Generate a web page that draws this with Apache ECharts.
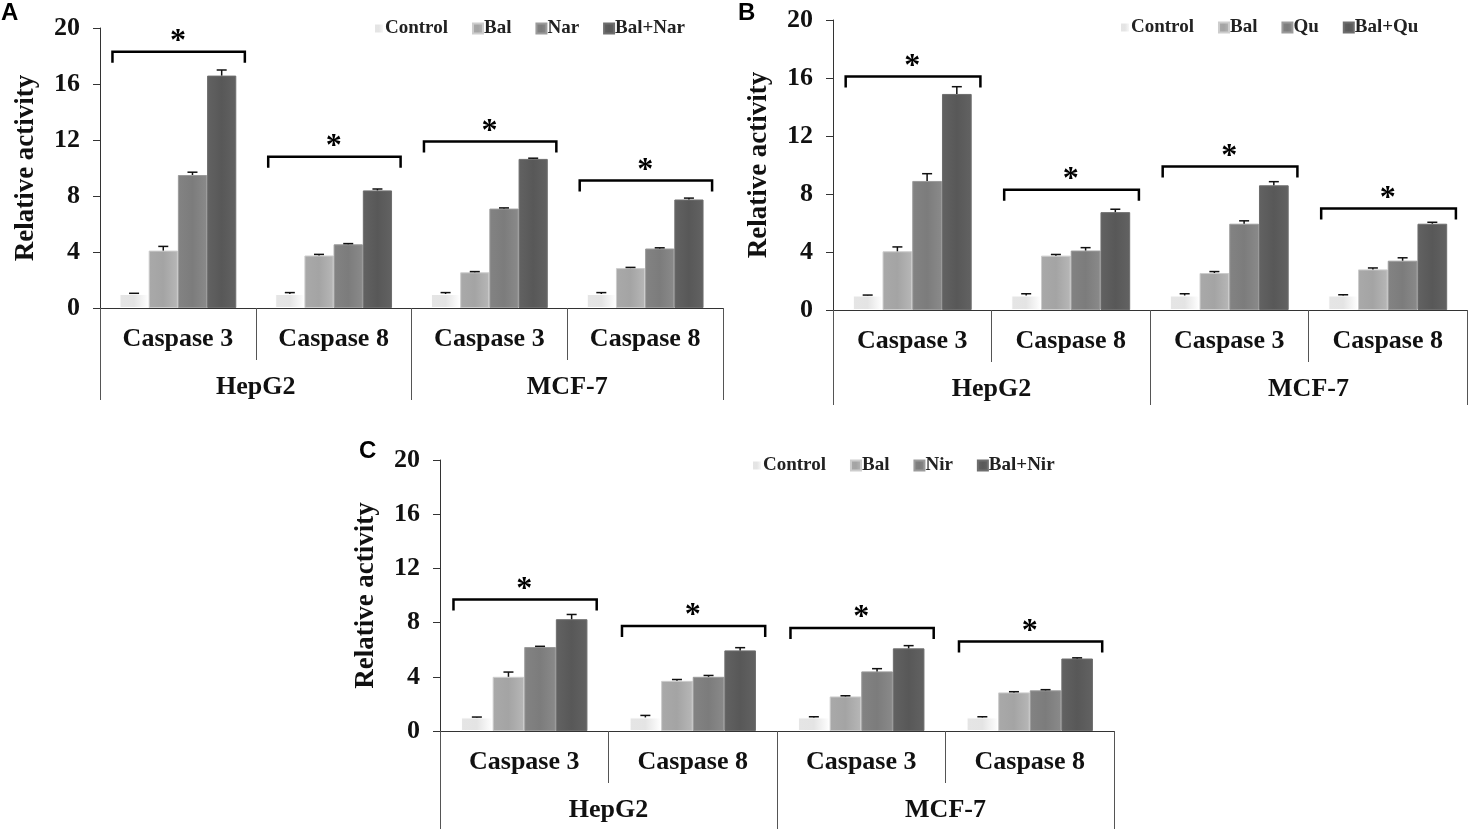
<!DOCTYPE html>
<html>
<head>
<meta charset="utf-8">
<script src="https://cdn.jsdelivr.net/npm/echarts@6/dist/echarts.min.js"></script>
<style>
    html, body {margin: 0; padding: 0; background: #fff;}
    #main {width: 1470px; height: 829px;}
</style>
</head>
<body>
<div id="main"></div>
<script>
/*分类*/
const caspases = ['Caspase 3', 'Caspase 8', 'Caspase 3', 'Caspase 8'];
const cellLines = ['HepG2', 'MCF-7'];
const yTicks = [0, 4, 8, 12, 16, 20];

/*A: Bal + Nar*/
const namesA = ['Control', 'Bal', 'Nar', 'Bal+Nar'];
const controlA = [1.0, 1.0, 1.0, 1.0];
const balA = [4.1, 3.75, 2.55, 2.85];
const narA = [9.5, 4.55, 7.1, 4.25];
const balNarA = [16.6, 8.4, 10.65, 7.75];
const controlErrA = [0.05, 0.1, 0.1, 0.1];
const balErrA = [0.3, 0.08, 0.05, 0.05];
const narErrA = [0.2, 0.05, 0.05, 0.05];
const balNarErrA = [0.4, 0.1, 0.05, 0.1];
const bracketA = [18.3, 10.8, 11.9, 9.1];

/*B: Bal + Qu*/
const namesB = ['Control', 'Bal', 'Qu', 'Bal+Qu'];
const controlB = [1.0, 1.0, 1.0, 1.0];
const balB = [4.05, 3.75, 2.55, 2.8];
const quB = [8.9, 4.1, 5.95, 3.4];
const balQuB = [14.9, 6.75, 8.6, 5.95];
const controlErrB = [0.03, 0.12, 0.12, 0.05];
const balErrB = [0.3, 0.08, 0.1, 0.1];
const quErrB = [0.5, 0.2, 0.2, 0.2];
const balQuErrB = [0.5, 0.2, 0.25, 0.1];
const bracketB = [16.1, 8.3, 9.9, 7.0];

/*C: Bal + Nir*/
const namesC = ['Control', 'Bal', 'Nir', 'Bal+Nir'];
const controlC = [1.0, 1.0, 1.0, 1.0];
const balC = [4.0, 3.7, 2.55, 2.85];
const nirC = [6.2, 4.0, 4.4, 3.0];
const balNirC = [8.25, 5.95, 6.1, 5.35];
const controlErrC = [0.03, 0.15, 0.05, 0.05];
const balErrC = [0.35, 0.1, 0.05, 0.05];
const nirErrC = [0.05, 0.1, 0.2, 0.05];
const balNirErrC = [0.35, 0.2, 0.2, 0.05];
const bracketC = [9.7, 7.75, 7.6, 6.6];

const barColors = ['#e4e4e4', '#a4a4a4', '#7c7c7c', '#585858'];
const serif = '"Liberation Serif", "Times New Roman", serif';
const catGap = 0.75; //四根柱子占分类宽度的比例

//柱子的渐变,模仿原图的立体效果
function barFill(c) {
    const col = echarts.color;
    return {
        type: 'linear', x: 0, y: 0, x2: 1, y2: 0,
        colorStops: [
            {offset: 0, color: col.lift(c, 0.06)},
            {offset: 0.5, color: c},
            {offset: 1, color: col.lift(c, -0.12)}
        ]
    };
}

function errorRender(params, api) {
    const cat = api.value(0), val = api.value(1), err = api.value(2), s = api.value(3);
    const base = api.coord([cat, val]);
    const top = api.coord([cat, val + err]);
    const w = api.size([1, 0])[0];
    const bw = w * catGap / 4;
    const x = base[0] - w * catGap / 2 + bw * (s + 0.5);
    const style = {stroke: '#111', lineWidth: 1.5};
    return {
        type: 'group',
        children: [
            {type: 'line', shape: {x1: x, y1: base[1], x2: x, y2: top[1]}, style: style},
            {type: 'line', shape: {x1: x - 5, y1: top[1], x2: x + 5, y2: top[1]}, style: style}
        ]
    };
}

function bracketRender(params, api) {
    const c = api.coord([api.value(0), api.value(1)]);
    const w = api.size([1, 0])[0];
    const l = c[0] - w * 0.42, r = c[0] + w * 0.43;
    return {
        type: 'group',
        children: [
            {
                type: 'polyline',
                shape: {points: [[l, c[1] + 11], [l, c[1]], [r, c[1]], [r, c[1] + 11]]},
                style: {stroke: '#000', lineWidth: 2.5, fill: null}
            },
            {
                type: 'text',
                style: {
                    text: '*', x: c[0], y: c[1] + 6, align: 'center', verticalAlign: 'bottom',
                    font: 'bold 32px ' + serif, fill: '#000'
                }
            }
        ]
    };
}

let grids = [], xAxes = [], yAxes = [], legends = [], series = [];

function addPanel(idx, rect, names, vals, errs, brackets, legendPos, tickLen2) {
    grids.push(rect);
    xAxes.push({
        type: 'category', gridIndex: idx, position: 'bottom', data: caspases,
        axisLine: {show: true, lineStyle: {color: '#333', width: 1}},
        axisTick: {show: true, interval: 0, length: 52, lineStyle: {color: '#555'}},
        axisLabel: {margin: 18, color: '#111', fontFamily: serif, fontWeight: 'bold', fontSize: 26}
    });
    xAxes.push({
        type: 'category', gridIndex: idx, position: 'bottom', data: cellLines,
        axisLine: {show: false},
        axisTick: {show: true, interval: 0, length: tickLen2, lineStyle: {color: '#555'}},
        axisLabel: {margin: 66, color: '#111', fontFamily: serif, fontWeight: 'bold', fontSize: 26}
    });
    yAxes.push({
        type: 'value', gridIndex: idx, min: yTicks[0], max: yTicks[yTicks.length - 1], interval: 4,
        name: 'Relative activity', nameLocation: 'middle', nameGap: 60,
        nameTextStyle: {fontFamily: serif, fontWeight: 'bold', fontSize: 27, color: '#111'},
        axisLine: {show: true, lineStyle: {color: '#333'}},
        axisTick: {show: true, length: 7, lineStyle: {color: '#333'}},
        splitLine: {show: false},
        axisLabel: {margin: 20, color: '#111', fontFamily: serif, fontWeight: 'bold', fontSize: 26}
    });
    legends.push(Object.assign({
        data: names, itemWidth: 10, itemHeight: 10, itemGap: 24, icon: 'rect',
        textStyle: {fontFamily: serif, fontWeight: 'bold', fontSize: 19, color: '#222', padding: [0, 0, 0, -4]}
    }, legendPos));
    names.forEach((name, s) => {
        series.push({
            type: 'bar', name: name, xAxisIndex: idx * 2, yAxisIndex: idx,
            data: vals[s], barGap: '0%', barCategoryGap: '25%',
            itemStyle: {color: barFill(barColors[s]), borderColor: echarts.color.lift(barColors[s], -0.25), borderWidth: 1},
            emphasis: {disabled: true}
        });
        series.push({
            type: 'custom', name: name + ' err', xAxisIndex: idx * 2, yAxisIndex: idx, z: 5,
            renderItem: errorRender,
            data: vals[s].map((v, i) => [i, v, errs[s][i], s]),
            silent: true
        });
    });
    series.push({
        type: 'custom', xAxisIndex: idx * 2, yAxisIndex: idx, z: 5,
        renderItem: bracketRender,
        data: brackets.map((v, i) => [i, v]),
        silent: true
    });
}

addPanel(0, {left: 100, top: 28, width: 623, height: 280},
    namesA, [controlA, balA, narA, balNarA], [controlErrA, balErrA, narErrA, balNarErrA], bracketA,
    {left: 368, top: 14}, 92);
addPanel(1, {left: 833, top: 20, width: 634, height: 290},
    namesB, [controlB, balB, quB, balQuB], [controlErrB, balErrB, quErrB, balQuErrB], bracketB,
    {left: 1114, top: 13}, 95);
addPanel(2, {left: 440, top: 460, width: 674, height: 271},
    namesC, [controlC, balC, nirC, balNirC], [controlErrC, balErrC, nirErrC, balNirErrC], bracketC,
    {left: 746, top: 451}, 100);

const letterStyle = {fontFamily: '"Liberation Sans", Arial, sans-serif', fontWeight: 'bold', fontSize: 24, color: '#000'};

const chart = echarts.init(document.getElementById('main'));
chart.setOption({
    animation: false,
    title: [
        {text: 'A', left: -4, top: -4, textStyle: letterStyle},
        {text: 'B', left: 733, top: -4, textStyle: letterStyle},
        {text: 'C', left: 354, top: 434, textStyle: letterStyle}
    ],
    grid: grids,
    xAxis: xAxes,
    yAxis: yAxes,
    legend: legends,
    series: series
});
</script>
</body>
</html>
